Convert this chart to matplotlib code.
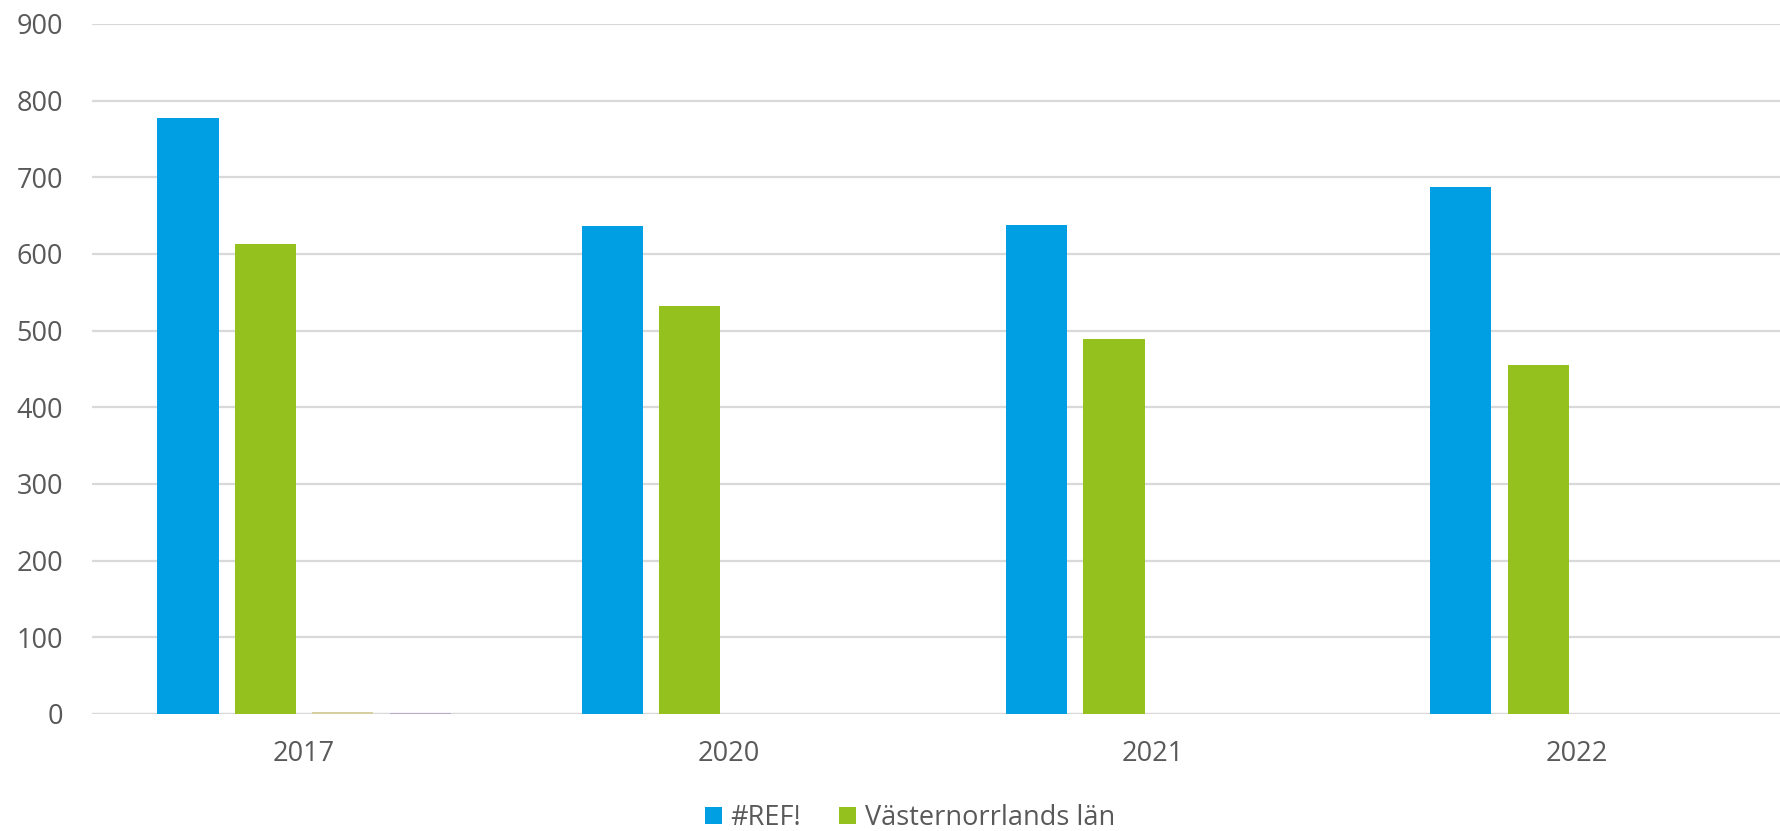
import numpy as np
import matplotlib.pyplot as plt
from matplotlib.patches import Patch

plt.rcParams["font.family"] = ["Open Sans", "DejaVu Sans"]

# Chart data
years = ["2017", "2020", "2021", "2022"]
ref_values = [778, 637, 638, 688]
vnorr_values = [613, 532, 489, 455]
series3_values = [2, 0, 0, 0]
series4_values = [1.5, 0, 0, 0]
y_ticks = [0, 100, 200, 300, 400, 500, 600, 700, 800, 900]

colors = ["#009FE3", "#95C11F", "#D8CFA0", "#B9A9C6"]
labels = ["#REF!", "Västernorrlands län"]
text_color = "#595959"
grid_color = "#D9D9D9"

fig = plt.figure(figsize=(17.81, 8.31), dpi=100)
ax = fig.add_axes([92 / 1781, 1 - 714 / 831, 1697 / 1781, (714 - 24) / 831])

x = np.arange(len(years))
width = 0.1445
step = 0.1824
all_series = [ref_values, vnorr_values, series3_values, series4_values]
for i, vals in enumerate(all_series):
    offset = (i - 1.5) * step
    ax.bar(x + offset, vals, width=width, color=colors[i], zorder=3)

ax.set_xlim(-0.5, len(years) - 0.5)
ax.set_ylim(0, 900)
ax.set_yticks(y_ticks)
ax.set_xticks(x)
ax.set_xticklabels(years)
ax.yaxis.grid(True, color=grid_color, linewidth=1.6, zorder=0)
ax.set_axisbelow(True)
for s in ax.spines.values():
    s.set_visible(False)
ax.tick_params(axis="both", length=0, labelsize=19.5, colors=text_color)
ax.tick_params(axis="y", pad=21)
ax.tick_params(axis="x", pad=19)
ax.axhline(0, color=grid_color, linewidth=1.6, zorder=1)

handles = [Patch(facecolor=colors[0]), Patch(facecolor=colors[1])]
fig.legend(handles, labels, loc="center", bbox_to_anchor=(910 / 1781, 1 - 818 / 831),
           ncol=2, frameon=False, fontsize=19.5, labelcolor=text_color,
           handlelength=0.64, handleheight=0.64, handletextpad=0.32,
           columnspacing=1.4, borderpad=0)

fig.savefig("out.png", dpi=100)
